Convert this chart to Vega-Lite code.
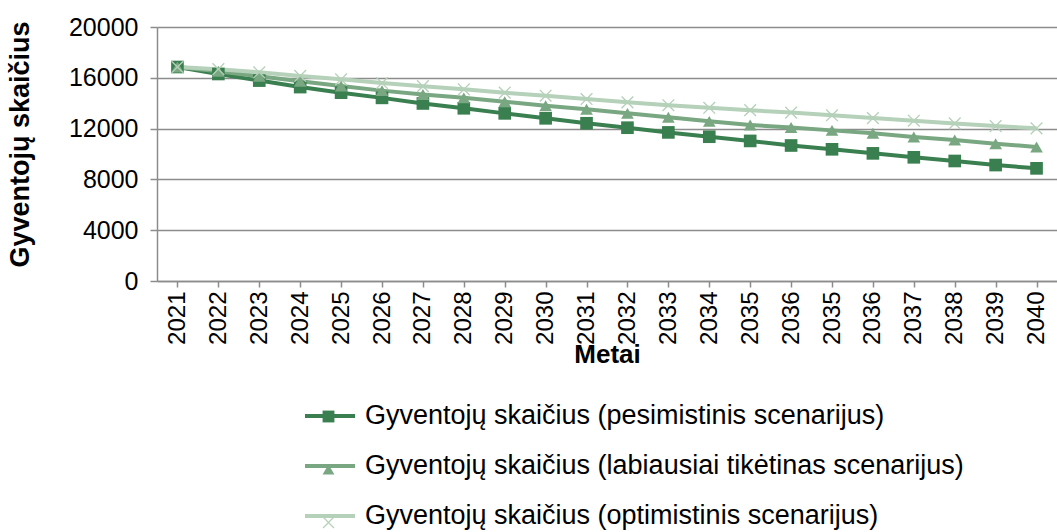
{
  "$schema": "https://vega.github.io/schema/vega-lite/v6.json",
  "width": 900,
  "height": 254,
  "autosize": "none",
  "padding": {"left": 157, "top": 27, "right": 0, "bottom": 251},
  "config": {"view": {"stroke": null}, "font": "Liberation Sans"},
  "data": {"values": [
    {"cat": "2021", "scenario": "pesimistinis", "series": "Gyventojų skaičius (pesimistinis scenarijus)", "value": 16850},
    {"cat": "2022", "scenario": "pesimistinis", "series": "Gyventojų skaičius (pesimistinis scenarijus)", "value": 16300},
    {"cat": "2023", "scenario": "pesimistinis", "series": "Gyventojų skaičius (pesimistinis scenarijus)", "value": 15780},
    {"cat": "2024", "scenario": "pesimistinis", "series": "Gyventojų skaičius (pesimistinis scenarijus)", "value": 15270},
    {"cat": "2025", "scenario": "pesimistinis", "series": "Gyventojų skaičius (pesimistinis scenarijus)", "value": 14830},
    {"cat": "2026", "scenario": "pesimistinis", "series": "Gyventojų skaičius (pesimistinis scenarijus)", "value": 14420},
    {"cat": "2027", "scenario": "pesimistinis", "series": "Gyventojų skaičius (pesimistinis scenarijus)", "value": 13980},
    {"cat": "2028", "scenario": "pesimistinis", "series": "Gyventojų skaičius (pesimistinis scenarijus)", "value": 13600},
    {"cat": "2029", "scenario": "pesimistinis", "series": "Gyventojų skaičius (pesimistinis scenarijus)", "value": 13200},
    {"cat": "2030", "scenario": "pesimistinis", "series": "Gyventojų skaičius (pesimistinis scenarijus)", "value": 12810},
    {"cat": "2031", "scenario": "pesimistinis", "series": "Gyventojų skaičius (pesimistinis scenarijus)", "value": 12420},
    {"cat": "2032", "scenario": "pesimistinis", "series": "Gyventojų skaičius (pesimistinis scenarijus)", "value": 12070},
    {"cat": "2033", "scenario": "pesimistinis", "series": "Gyventojų skaičius (pesimistinis scenarijus)", "value": 11700},
    {"cat": "2034", "scenario": "pesimistinis", "series": "Gyventojų skaičius (pesimistinis scenarijus)", "value": 11360},
    {"cat": "2035", "scenario": "pesimistinis", "series": "Gyventojų skaičius (pesimistinis scenarijus)", "value": 11030},
    {"cat": "2036", "scenario": "pesimistinis", "series": "Gyventojų skaičius (pesimistinis scenarijus)", "value": 10670},
    {"cat": "2035b", "scenario": "pesimistinis", "series": "Gyventojų skaičius (pesimistinis scenarijus)", "value": 10370},
    {"cat": "2036b", "scenario": "pesimistinis", "series": "Gyventojų skaičius (pesimistinis scenarijus)", "value": 10050},
    {"cat": "2037", "scenario": "pesimistinis", "series": "Gyventojų skaičius (pesimistinis scenarijus)", "value": 9740},
    {"cat": "2038", "scenario": "pesimistinis", "series": "Gyventojų skaičius (pesimistinis scenarijus)", "value": 9450},
    {"cat": "2039", "scenario": "pesimistinis", "series": "Gyventojų skaičius (pesimistinis scenarijus)", "value": 9130},
    {"cat": "2040", "scenario": "pesimistinis", "series": "Gyventojų skaičius (pesimistinis scenarijus)", "value": 8870},
    {"cat": "2021", "scenario": "labiausiai tikėtinas", "series": "Gyventojų skaičius (labiausiai tikėtinas scenarijus)", "value": 16850},
    {"cat": "2022", "scenario": "labiausiai tikėtinas", "series": "Gyventojų skaičius (labiausiai tikėtinas scenarijus)", "value": 16520},
    {"cat": "2023", "scenario": "labiausiai tikėtinas", "series": "Gyventojų skaičius (labiausiai tikėtinas scenarijus)", "value": 16120},
    {"cat": "2024", "scenario": "labiausiai tikėtinas", "series": "Gyventojų skaičius (labiausiai tikėtinas scenarijus)", "value": 15730},
    {"cat": "2025", "scenario": "labiausiai tikėtinas", "series": "Gyventojų skaičius (labiausiai tikėtinas scenarijus)", "value": 15350},
    {"cat": "2026", "scenario": "labiausiai tikėtinas", "series": "Gyventojų skaičius (labiausiai tikėtinas scenarijus)", "value": 14990},
    {"cat": "2027", "scenario": "labiausiai tikėtinas", "series": "Gyventojų skaičius (labiausiai tikėtinas scenarijus)", "value": 14690},
    {"cat": "2028", "scenario": "labiausiai tikėtinas", "series": "Gyventojų skaičius (labiausiai tikėtinas scenarijus)", "value": 14420},
    {"cat": "2029", "scenario": "labiausiai tikėtinas", "series": "Gyventojų skaičius (labiausiai tikėtinas scenarijus)", "value": 14120},
    {"cat": "2030", "scenario": "labiausiai tikėtinas", "series": "Gyventojų skaičius (labiausiai tikėtinas scenarijus)", "value": 13800},
    {"cat": "2031", "scenario": "labiausiai tikėtinas", "series": "Gyventojų skaičius (labiausiai tikėtinas scenarijus)", "value": 13520},
    {"cat": "2032", "scenario": "labiausiai tikėtinas", "series": "Gyventojų skaičius (labiausiai tikėtinas scenarijus)", "value": 13200},
    {"cat": "2033", "scenario": "labiausiai tikėtinas", "series": "Gyventojų skaičius (labiausiai tikėtinas scenarijus)", "value": 12890},
    {"cat": "2034", "scenario": "labiausiai tikėtinas", "series": "Gyventojų skaičius (labiausiai tikėtinas scenarijus)", "value": 12570},
    {"cat": "2035", "scenario": "labiausiai tikėtinas", "series": "Gyventojų skaičius (labiausiai tikėtinas scenarijus)", "value": 12290},
    {"cat": "2036", "scenario": "labiausiai tikėtinas", "series": "Gyventojų skaičius (labiausiai tikėtinas scenarijus)", "value": 12080},
    {"cat": "2035b", "scenario": "labiausiai tikėtinas", "series": "Gyventojų skaičius (labiausiai tikėtinas scenarijus)", "value": 11860},
    {"cat": "2036b", "scenario": "labiausiai tikėtinas", "series": "Gyventojų skaičius (labiausiai tikėtinas scenarijus)", "value": 11630},
    {"cat": "2037", "scenario": "labiausiai tikėtinas", "series": "Gyventojų skaičius (labiausiai tikėtinas scenarijus)", "value": 11340},
    {"cat": "2038", "scenario": "labiausiai tikėtinas", "series": "Gyventojų skaičius (labiausiai tikėtinas scenarijus)", "value": 11100},
    {"cat": "2039", "scenario": "labiausiai tikėtinas", "series": "Gyventojų skaičius (labiausiai tikėtinas scenarijus)", "value": 10810},
    {"cat": "2040", "scenario": "labiausiai tikėtinas", "series": "Gyventojų skaičius (labiausiai tikėtinas scenarijus)", "value": 10550},
    {"cat": "2021", "scenario": "optimistinis", "series": "Gyventojų skaičius (optimistinis scenarijus)", "value": 16850},
    {"cat": "2022", "scenario": "optimistinis", "series": "Gyventojų skaičius (optimistinis scenarijus)", "value": 16680},
    {"cat": "2023", "scenario": "optimistinis", "series": "Gyventojų skaičius (optimistinis scenarijus)", "value": 16430},
    {"cat": "2024", "scenario": "optimistinis", "series": "Gyventojų skaičius (optimistinis scenarijus)", "value": 16150},
    {"cat": "2025", "scenario": "optimistinis", "series": "Gyventojų skaičius (optimistinis scenarijus)", "value": 15880},
    {"cat": "2026", "scenario": "optimistinis", "series": "Gyventojų skaičius (optimistinis scenarijus)", "value": 15590},
    {"cat": "2027", "scenario": "optimistinis", "series": "Gyventojų skaičius (optimistinis scenarijus)", "value": 15340},
    {"cat": "2028", "scenario": "optimistinis", "series": "Gyventojų skaičius (optimistinis scenarijus)", "value": 15090},
    {"cat": "2029", "scenario": "optimistinis", "series": "Gyventojų skaičius (optimistinis scenarijus)", "value": 14830},
    {"cat": "2030", "scenario": "optimistinis", "series": "Gyventojų skaičius (optimistinis scenarijus)", "value": 14590},
    {"cat": "2031", "scenario": "optimistinis", "series": "Gyventojų skaičius (optimistinis scenarijus)", "value": 14330},
    {"cat": "2032", "scenario": "optimistinis", "series": "Gyventojų skaičius (optimistinis scenarijus)", "value": 14070},
    {"cat": "2033", "scenario": "optimistinis", "series": "Gyventojų skaičius (optimistinis scenarijus)", "value": 13840},
    {"cat": "2034", "scenario": "optimistinis", "series": "Gyventojų skaičius (optimistinis scenarijus)", "value": 13640},
    {"cat": "2035", "scenario": "optimistinis", "series": "Gyventojų skaičius (optimistinis scenarijus)", "value": 13450},
    {"cat": "2036", "scenario": "optimistinis", "series": "Gyventojų skaičius (optimistinis scenarijus)", "value": 13260},
    {"cat": "2035b", "scenario": "optimistinis", "series": "Gyventojų skaičius (optimistinis scenarijus)", "value": 13050},
    {"cat": "2036b", "scenario": "optimistinis", "series": "Gyventojų skaičius (optimistinis scenarijus)", "value": 12830},
    {"cat": "2037", "scenario": "optimistinis", "series": "Gyventojų skaičius (optimistinis scenarijus)", "value": 12620},
    {"cat": "2038", "scenario": "optimistinis", "series": "Gyventojų skaičius (optimistinis scenarijus)", "value": 12410},
    {"cat": "2039", "scenario": "optimistinis", "series": "Gyventojų skaičius (optimistinis scenarijus)", "value": 12200},
    {"cat": "2040", "scenario": "optimistinis", "series": "Gyventojų skaičius (optimistinis scenarijus)", "value": 12020}
  ]},
  "encoding": {
    "x": {"field": "cat", "type": "ordinal", "sort": null,
      "scale": {"paddingInner": 0, "paddingOuter": 0},
      "axis": {"title": "Metai", "titleFontSize": 26, "titleFontWeight": "bold", "titleColor": "#000000", "titlePadding": -3,
        "labelAngle": -90, "labelFontSize": 24, "labelColor": "#000000", "labelPadding": 4,
        "labelExpr": "slice(datum.value, 0, 4)",
        "tickColor": "#8c8c8c", "tickSize": 6, "tickWidth": 1.5, "domainColor": "#8c8c8c", "domainWidth": 1.5, "grid": false}},
    "y": {"field": "value", "type": "quantitative",
      "scale": {"domain": [0, 20000], "nice": false},
      "axis": {"title": "Gyventojų skaičius", "titleFontSize": 27, "titleFontWeight": "bold", "titleColor": "#000000", "titlePadding": 34, "titleY": 117,
        "values": [0, 4000, 8000, 12000, 16000, 20000], "format": "d",
        "labelFontSize": 25, "labelColor": "#000000", "labelPadding": 12,
        "tickColor": "#8c8c8c", "tickSize": 7, "tickWidth": 1.5, "domainColor": "#8c8c8c", "domainWidth": 1.5,
        "grid": true, "gridColor": "#8c8c8c", "gridWidth": 1.5}}
  },
  "layer": [
    {"mark": {"type": "line", "strokeWidth": 4},
     "encoding": {
       "color": {"field": "series", "type": "nominal", "sort": null,
         "scale": {"domain": ["Gyventojų skaičius (pesimistinis scenarijus)", "Gyventojų skaičius (labiausiai tikėtinas scenarijus)", "Gyventojų skaičius (optimistinis scenarijus)"],
                   "range": ["#3A7F4F", "#79A781", "#B5D1B9"]},
         "legend": {"orient": "none", "legendX": 146, "legendY": 362, "direction": "vertical", "title": null,
           "symbolType": "stroke", "symbolSize": 2500, "symbolStrokeWidth": 4,
           "labelFontSize": 27, "labelColor": "#000000", "labelOffset": 8, "rowPadding": 10, "labelLimit": 800}}
     }},
    {"mark": {"type": "point", "filled": true, "opacity": 1, "strokeWidth": 0, "size": 160},
     "encoding": {
       "fill": {"field": "scenario", "type": "nominal", "sort": null,
         "scale": {"domain": ["pesimistinis", "labiausiai tikėtinas", "optimistinis"],
                   "range": ["#3A7F4F", "#79A781", "#B5D1B9"]},
         "legend": {"orient": "none", "legendX": 146, "legendY": 376, "direction": "vertical", "title": null,
           "symbolSize": 140, "symbolOffset": 12, "symbolOpacity": 1, "symbolStrokeWidth": 0,
           "labelFontSize": 27, "labelColor": "transparent", "labelOffset": 8, "rowPadding": 25, "labelLimit": 800}},
       "shape": {"field": "scenario", "type": "nominal", "sort": null,
         "scale": {"domain": ["pesimistinis", "labiausiai tikėtinas", "optimistinis"],
                   "range": ["square", "triangle-up", "M-1,-0.85L-0.85,-1L0,-0.15L0.85,-1L1,-0.85L0.15,0L1,0.85L0.85,1L0,0.15L-0.85,1L-1,0.85L-0.15,0Z"]},
         "legend": {"orient": "none", "legendX": 146, "legendY": 376, "direction": "vertical", "title": null,
           "symbolSize": 140, "symbolOffset": 12, "symbolOpacity": 1, "symbolStrokeWidth": 0,
           "labelFontSize": 27, "labelColor": "transparent", "labelOffset": 8, "rowPadding": 25, "labelLimit": 800}}
     }}
  ]
}
